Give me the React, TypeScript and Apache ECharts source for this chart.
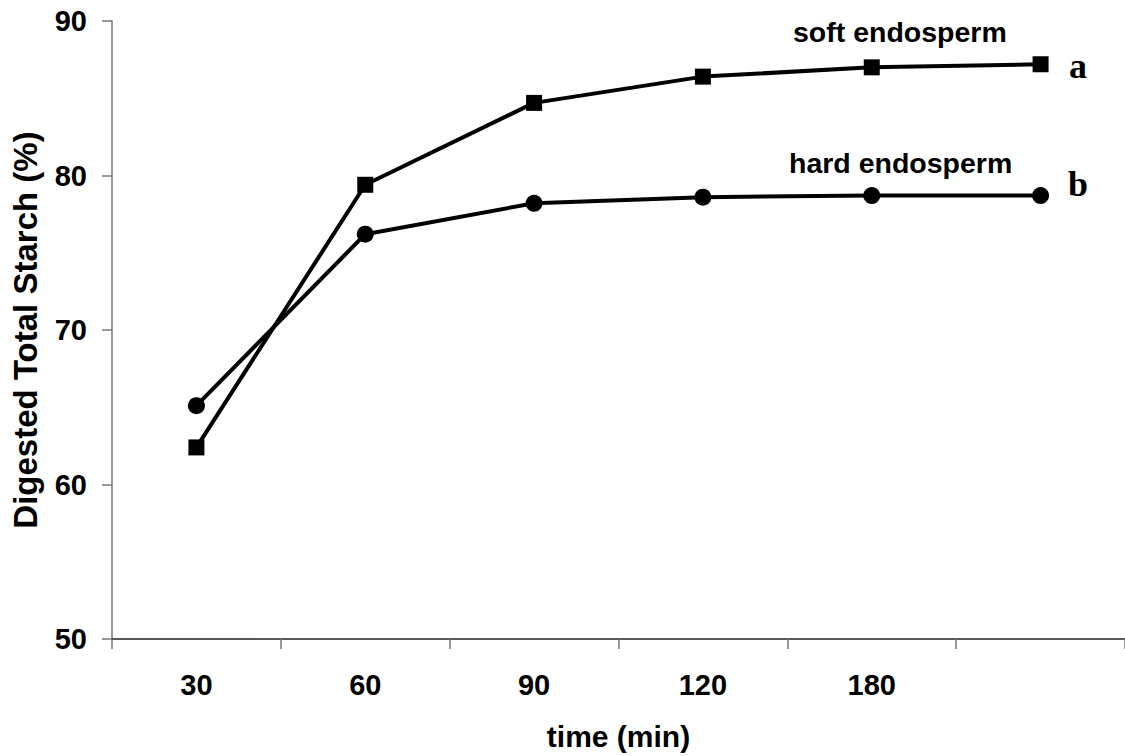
import React, { useEffect, useRef } from "react";
import * as echarts from "echarts";

const categories = ["30", "60", "90", "120", "180", ""];
const softEndosperm = [62.4, 79.4, 84.7, 86.4, 87.0, 87.2];
const hardEndosperm = [65.1, 76.2, 78.2, 78.6, 78.7, 78.7];
const yTicks = { min: 50, max: 90, interval: 10 };

export default function App() {
  const ref = useRef<HTMLDivElement>(null);
  useEffect(() => {
    if (!ref.current) return;
    const chart = echarts.init(ref.current, undefined, { renderer: "svg" });
    const font = "Arial, 'Liberation Sans', sans-serif";
    const serif = "'Liberation Serif', 'Times New Roman', serif";
    chart.setOption({
      animation: false,
      backgroundColor: "#ffffff",
      grid: { left: 112, top: 21, right: -3, bottom: 114, containLabel: false },
      xAxis: {
        type: "category",
        data: categories,
        boundaryGap: true,
        name: "time (min)",
        nameLocation: "middle",
        nameGap: 82,
        nameTextStyle: { fontFamily: font, fontWeight: "bold", fontSize: 30, color: "#000" },
        axisLine: { lineStyle: { color: "#222", width: 1.5 } },
        axisTick: { show: true, length: 10, lineStyle: { color: "#777", width: 1.5 } },
        axisLabel: { margin: 31, fontFamily: font, fontWeight: "bold", fontSize: 29, color: "#000" },
        splitLine: { show: false },
      },
      yAxis: {
        type: "value",
        min: yTicks.min,
        max: yTicks.max,
        interval: yTicks.interval,
        name: "Digested Total Starch (%)",
        nameLocation: "middle",
        nameGap: 70,
        nameTextStyle: { fontFamily: font, fontWeight: "bold", fontSize: 33, color: "#000" },
        axisLine: { show: true, lineStyle: { color: "#777", width: 1.5 } },
        axisTick: { show: true, length: 10, lineStyle: { color: "#777", width: 1.5 } },
        axisLabel: { margin: 25, fontFamily: font, fontWeight: "bold", fontSize: 29, color: "#000" },
        splitLine: { show: false },
      },
      series: [
        {
          name: "soft endosperm",
          type: "line",
          data: softEndosperm,
          symbol: "rect",
          symbolSize: 16,
          lineStyle: { color: "#000", width: 4 },
          itemStyle: { color: "#000" },
        },
        {
          name: "hard endosperm",
          type: "line",
          data: hardEndosperm,
          symbol: "circle",
          symbolSize: 17,
          lineStyle: { color: "#000", width: 4 },
          itemStyle: { color: "#000" },
        },
      ],
      graphic: [
        {
          type: "text",
          left: 793,
          top: 17,
          style: { text: "soft endosperm", fontFamily: font, fontWeight: "bold", fontSize: 28.5, fill: "#000" },
        },
        {
          type: "text",
          left: 789,
          top: 148,
          style: { text: "hard endosperm", fontFamily: font, fontWeight: "bold", fontSize: 28.5, fill: "#000" },
        },
        {
          type: "text",
          left: 1069,
          top: 48,
          style: { text: "a", fontFamily: serif, fontWeight: "bold", fontSize: 36, fill: "#000" },
        },
        {
          type: "text",
          left: 1068,
          top: 166,
          style: { text: "b", fontFamily: serif, fontWeight: "bold", fontSize: 36, fill: "#000" },
        },
      ],
    });
    return () => chart.dispose();
  }, []);
  return (
    <div
      ref={ref}
      style={{ position: "absolute", left: 0, top: 0, width: 1125, height: 756 }}
    />
  );
}
